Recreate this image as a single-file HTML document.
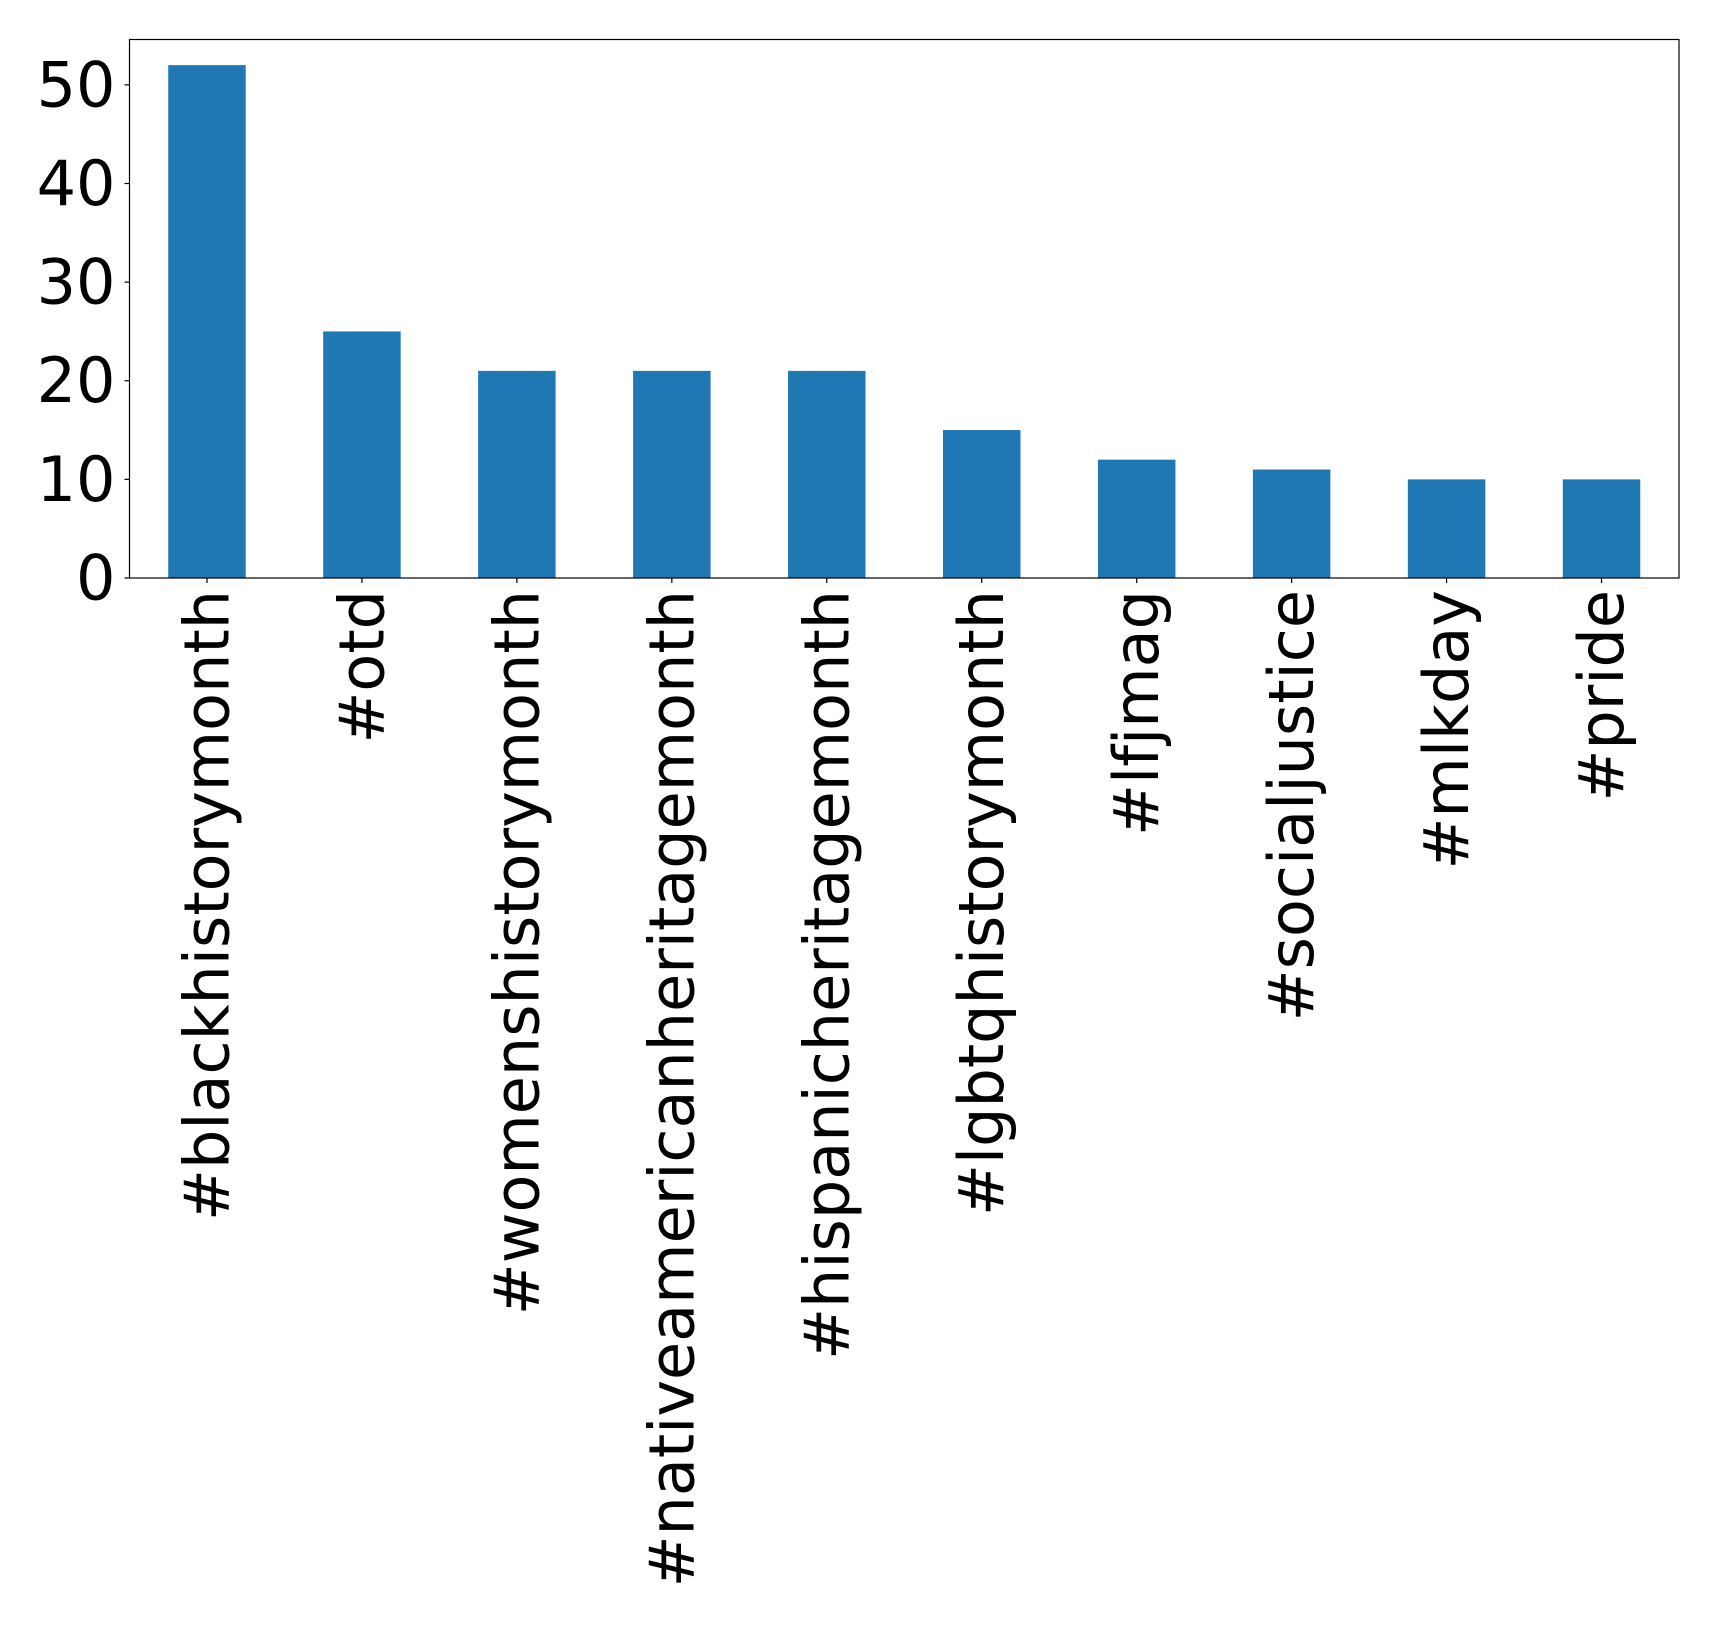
<!DOCTYPE html>
<html><head><meta charset="utf-8"><style>html,body{margin:0;padding:0;background:#fff}svg{display:block}text{font-family:"DejaVu Sans","Liberation Sans",sans-serif;font-size:62px;fill:#000}</style></head>
<body>
<svg id="chart" width="1719" height="1633" viewBox="0 0 1719 1633" xmlns="http://www.w3.org/2000/svg"></svg>
<script>
const categories = ["#blackhistorymonth","#otd","#womenshistorymonth","#nativeamericanheritagemonth","#hispanicheritagemonth","#lgbtqhistorymonth","#lfjmag","#socialjustice","#mlkday","#pride"];
const values = [52,25,21,21,21,15,12,11,10,10];
const yTicks = [0,10,20,30,40,50];

const svg = document.getElementById('chart');
const NS = 'http://www.w3.org/2000/svg';
const L = 129.5, R = 1679, T = 39.5, B = 578;
const yMax = Math.max(...values) * 1.05;
const n = categories.length;
const step = (R - L) / n;
function xScale(i) { return L + step * (i + 0.5); }
function yScale(v) { return B - (v / yMax) * (B - T); }
function mk(tag, attrs) { const e = document.createElementNS(NS, tag); for (const k in attrs) e.setAttribute(k, attrs[k]); svg.appendChild(e); return e; }

values.forEach((v, i) => {
  const r = mk('rect', {x: xScale(i) - step * 0.25, y: yScale(v), width: step * 0.5, height: B - yScale(v), fill: '#1f77b4'});
  
  
});

const frame = mk('rect', {x: L, y: T, width: R - L, height: B - T, fill: 'none', stroke: '#000', 'stroke-width': 1.2});



yTicks.forEach(t => {
  const y = yScale(t);
  const tk = mk('line', {x1: L - 5, x2: L, y1: y, y2: y, stroke: '#000', 'stroke-width': 1.2});
  
  
  const tx = mk('text', {x: L - 14, y: y, 'text-anchor': 'end', 'dominant-baseline': 'central'});
  tx.textContent = String(t);
  
  
});

categories.forEach((c, i) => {
  const x = xScale(i);
  const tk = mk('line', {x1: x, x2: x, y1: B, y2: B + 5, stroke: '#000', 'stroke-width': 1.2});
  
  
  const tx = mk('text', {x: 0, y: 0, 'text-anchor': 'end', 'dominant-baseline': 'central', transform: 'translate(' + x + ',' + (B + 12) + ') rotate(-90)'});
  tx.textContent = c;
  
  
});
</script>
</body></html>
